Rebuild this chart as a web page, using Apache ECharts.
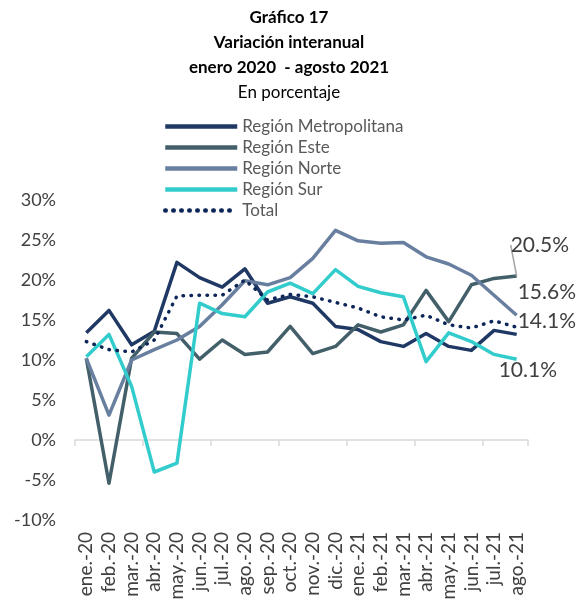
<!DOCTYPE html>
<html>
<head>
<meta charset="utf-8">
<script src="https://cdn.jsdelivr.net/npm/echarts@6/dist/echarts.min.js"></script>
<style>
  html, body { margin: 0; padding: 0; background: #fff; }
  #chart { width: 578px; height: 604px; }
</style>
</head>
<body>
<div id="chart"></div>
<script>
// 月份
const months = ['ene.-20','feb.-20','mar.-20','abr.-20','may.-20','jun.-20','jul.-20','ago.-20','sep.-20','oct.-20','nov.-20','dic.-20',
  'ene.-21','feb.-21','mar.-21','abr.-21','may.-21','jun.-21','jul.-21','ago.-21'];

// 各区域同比变化 (%)
const metropolitana = [13.4,16.2,11.9,13.6,22.2,20.3,19.1,21.4,17.1,17.9,17.1,14.2,13.8,12.3,11.7,13.3,11.7,11.2,13.7,13.2];
const este = [10.2,-5.4,10.2,13.5,13.3,10.1,12.5,10.7,11.0,14.2,10.8,11.7,14.4,13.5,14.4,18.7,14.8,19.4,20.2,20.5];
const norte = [10.2,3.1,10.0,11.3,12.5,14.2,16.9,19.9,19.4,20.3,22.7,26.2,24.9,24.6,24.7,22.9,22.0,20.6,18.1,15.6];
const sur = [10.4,13.2,6.7,-4.0,-2.9,17.1,15.8,15.4,18.5,19.6,18.3,21.3,19.2,18.4,17.9,9.8,13.4,12.3,10.7,10.1];
const total = [12.3,11.3,11.0,12.5,18.0,18.1,18.1,20.0,17.5,18.2,17.9,17.2,16.5,15.4,15.0,15.6,14.4,14.0,14.9,14.1];

// Y轴刻度
const yTicks = { min: -10, max: 30, interval: 5 };

const FONT = 'Lato';
const TXT = '#404040';

// 只在最后一个点显示数值标签
function withEndLabel(values, offset) {
  const last = values.length - 1;
  return values.map((v, i) => i === last ? {
    value: v,
    label: {
      show: true,
      position: 'right',
      distance: 0,
      offset: offset,
      formatter: v.toFixed(1) + '%',
      color: TXT,
      fontFamily: FONT,
      fontSize: 21
    }
  } : v);
}

function lineSeries(name, color, data, extra) {
  return Object.assign({
    name: name,
    type: 'line',
    data: data,
    symbol: 'circle',
    symbolSize: 0,
    showSymbol: true,
    lineStyle: { color: color, width: 3.5, join: 'round' },
    itemStyle: { color: color },
    emphasis: { disabled: true },
    animation: false
  }, extra || {});
}

const chart = echarts.init(document.getElementById('chart'), null, { renderer: 'canvas' });

const option = {
  backgroundColor: '#fff',
  title: {
    text: '{b|Gráfico 17}\n{b|Variación interanual}\n{b|enero 2020  - agosto 2021}\n{n|En porcentaje}',
    left: 284,
    top: 0,
    textAlign: 'center',
    textStyle: {
      fontWeight: 'normal',
      rich: {
        b: { fontFamily: FONT, fontSize: 17, fontWeight: 'bold', color: '#000', lineHeight: 25, align: 'center' },
        n: { fontFamily: FONT, fontSize: 17, fontWeight: 'normal', color: '#000', lineHeight: 25, align: 'center' }
      }
    }
  },
  legend: {
    orient: 'vertical',
    left: 163,
    top: 118,
    padding: 0,
    itemWidth: 72,
    itemHeight: 14,
    itemGap: 4,
    itemStyle: { opacity: 0 },
    lineStyle: { width: 4.5 },
    textStyle: { fontFamily: FONT, fontSize: 17, color: '#595959' },
    data: ['Región Metropolitana', 'Región Este', 'Región Norte', 'Región Sur', 'Total']
  },
  grid: { left: 75, right: 50, top: 200, bottom: 84 },
  xAxis: [
    {
      type: 'category',
      data: months,
      boundaryGap: true,
      axisLine: { onZero: true, lineStyle: { color: '#d9d9d9', width: 1.5 } },
      axisTick: { show: true, length: 6, lineStyle: { color: '#d9d9d9', width: 1.5 } },
      axisLabel: { show: false }
    },
    {
      type: 'category',
      data: months,
      position: 'bottom',
      boundaryGap: true,
      axisLine: { show: false, onZero: false },
      axisTick: { show: false },
      axisLabel: { rotate: 90, margin: 12, interval: 0, fontFamily: FONT, fontSize: 19, color: TXT }
    }
  ],
  yAxis: {
    type: 'value',
    min: yTicks.min,
    max: yTicks.max,
    interval: yTicks.interval,
    splitLine: { show: false },
    axisLine: { show: false },
    axisTick: { show: false },
    axisLabel: { formatter: '{value}%', margin: 19, fontFamily: FONT, fontSize: 18, color: TXT }
  },
  series: [
    lineSeries('Región Metropolitana', '#203864', metropolitana),
    lineSeries('Región Este', '#435f69', withEndLabel(este, [0, 0]), {
      labelLayout: { dx: -6, dy: -31 },
      labelLine: { show: true, lineStyle: { color: '#a6a6a6', width: 1.5 } }
    }),
    lineSeries('Región Norte', '#687fa0', withEndLabel(norte, [1, -23])),
    lineSeries('Región Sur', '#33cccc', withEndLabel(sur, [-18, 11])),
    lineSeries('Total', '#0d2557', withEndLabel(total, [1, -6]), {
      lineStyle: { color: '#0d2557', width: 3.5, type: [0.5, 7.5], cap: 'round' },
      z: 3
    })
  ]
};

chart.setOption(option);
</script>
</body>
</html>
